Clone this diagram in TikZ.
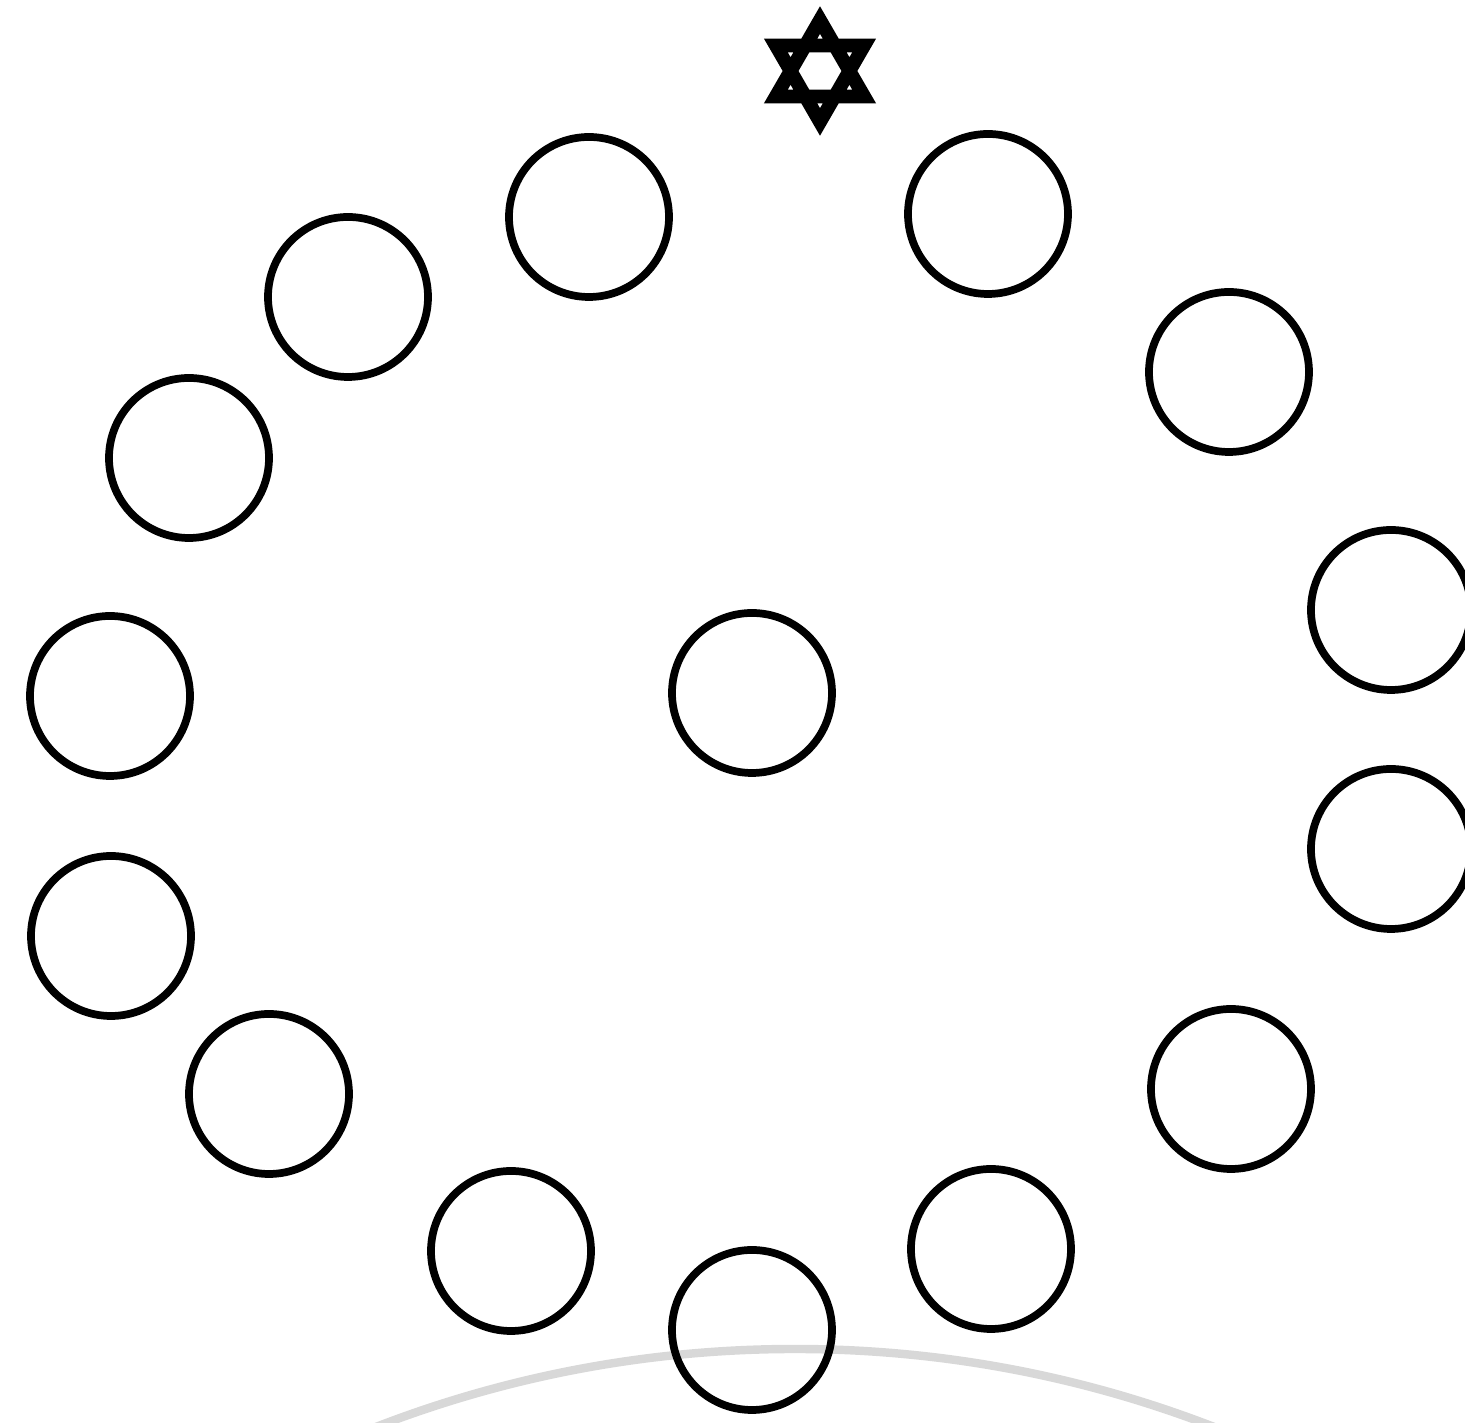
\documentclass[tikz,border=0pt]{standalone}
\usepackage{fontspec}
\newfontfamily\symfont[FakeBold=4]{DejaVu Sans}
\definecolor{Ink}{HTML}{000000}
\definecolor{Shadow}{HTML}{D8D8D8}
\tikzset{
  seat/.style={
    circle, draw=Ink, line width=2.2pt, minimum size=1.60cm, inner sep=0pt
  },
  starmark/.style={
    inner sep=0pt, font=\symfont\fontsize{44}{44}\selectfont, text=Ink
  },
  rim/.style={draw=Shadow, line width=2.4pt}
}

\begin{document}
\begin{tikzpicture}[x=1cm,y=1cm]
    \useasboundingbox (0,0) rectangle (14.65,14.23);
    \clip (0,0) rectangle (14.65,14.23);

    % faint arc at the foot
    \draw[rim] (7.95,-10.86) circle (11.60);

    \node[starmark] (star) at (8.20,13.52) {✡};

    % ring, clockwise from the star
    \node[seat] (s1) at (9.88,12.09) {};
    \node[seat] (s2) at (12.29,10.51) {};
    \node[seat] (s3) at (13.91,8.13) {};
    \node[seat] (s4) at (13.91,5.74) {};
    \node[seat] (s5) at (12.31,3.34) {};
    \node[seat] (s6) at (9.91,1.74) {};
    \node[seat] (s7) at (7.52,0.93) {};
    \node[seat] (s8) at (5.11,1.72) {};
    \node[seat] (s9) at (2.69,3.29) {};
    \node[seat] (s10) at (1.11,4.87) {};
    \node[seat] (s11) at (1.10,7.27) {};
    \node[seat] (s12) at (1.89,9.65) {};
    \node[seat] (s13) at (3.48,11.26) {};
    \node[seat] (s14) at (5.89,12.06) {};

    \node[seat] (hub) at (7.52,7.30) {};
  \end{tikzpicture}
\end{document}
